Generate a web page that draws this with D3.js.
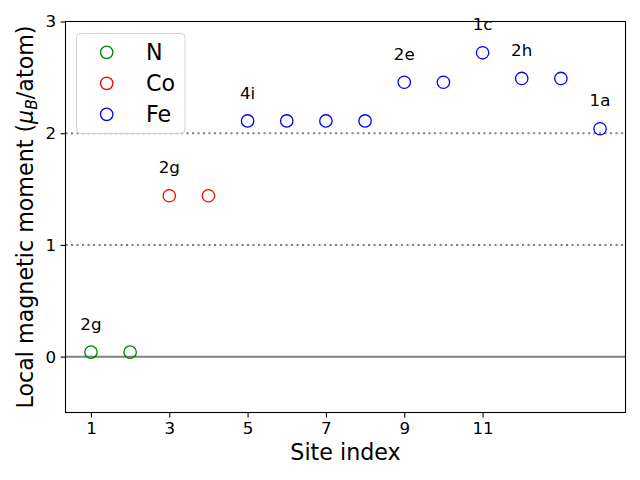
<!DOCTYPE html>
<html><head><meta charset="utf-8">
<script src="https://cdn.jsdelivr.net/npm/d3@7"></script>
<style>body{margin:0;background:#fff}svg{font-family:"DejaVu Sans",sans-serif}</style>
</head><body>
<svg id="c" width="640" height="480"></svg>
<script>
const nSites = [1, 2];
const nValues = [0.04, 0.04];
const coSites = [3, 4];
const coValues = [1.44, 1.44];
const feSites = [5, 6, 7, 8, 9, 10, 11, 12, 13, 14];
const feValues = [2.11, 2.11, 2.11, 2.11, 2.456, 2.456, 2.72, 2.49, 2.49, 2.04];
const siteLabels = ["2g", "2g", "4i", "2e", "1c", "2h", "1a"];
const labelSites = [1, 3, 5, 9, 11, 12, 14];
const labelValues = [0.04, 1.44, 2.11, 2.456, 2.72, 2.49, 2.04];
const xTicks = [1, 3, 5, 7, 9, 11];
const yTicks = [0, 1, 2, 3];
const refLines = [1, 2];

const svg = d3.select("#c");
const L = 65.5, R = 625.5, T = 21.5, B = 412.5;
const x = d3.scaleLinear().domain([0.35, 14.65]).range([L, R]);
const y = d3.scaleLinear().domain([-0.5, 3]).range([B, T]);

// reference lines
svg.append("line").attr("x1", L).attr("x2", R).attr("y1", y(0)).attr("y2", y(0))
  .attr("stroke", "#808080").attr("stroke-width", 2);
svg.selectAll(".ref").data(refLines).join("line")
  .attr("x1", L).attr("x2", R).attr("y1", d => y(d)).attr("y2", d => y(d))
  .attr("stroke", "#808080").attr("stroke-width", 2).attr("stroke-dasharray", "2.1,3.4");

// axes
const xAxis = svg.append("g").attr("transform", `translate(0,${B})`)
  .call(d3.axisBottom(x).tickValues(xTicks).tickSize(4.9).tickPadding(4.5).tickFormat(d3.format("d")));
const yAxis = svg.append("g").attr("transform", `translate(${L},0)`)
  .call(d3.axisLeft(y).tickValues(yTicks).tickSize(4.9).tickPadding(4.5).tickFormat(d3.format("d")));
[xAxis, yAxis].forEach(a => {
  a.select(".domain").remove();
  a.selectAll("text").attr("font-size", 16.7).attr("fill", "#000").attr("font-family", "DejaVu Sans");
  a.selectAll("line").attr("stroke", "#000").attr("stroke-width", 1.1);
});
svg.append("rect").attr("x", L).attr("y", T).attr("width", R - L).attr("height", B - T)
  .attr("fill", "none").attr("stroke", "#000").attr("stroke-width", 1.1);

// points
function pts(sites, vals, color) {
  svg.append("g").selectAll("circle").data(sites).join("circle")
    .attr("cx", d => x(d)).attr("cy", (d, i) => y(vals[i])).attr("r", 6.2)
    .attr("fill", "none").attr("stroke", color).attr("stroke-width", 1.3);
}
pts(nSites, nValues, "green");
pts(coSites, coValues, "red");
pts(feSites, feValues, "blue");

// site labels
svg.append("g").selectAll("text").data(siteLabels).join("text")
  .attr("x", (d, i) => x(labelSites[i])).attr("y", (d, i) => y(labelValues[i] + 0.2))
  .attr("text-anchor", "middle").attr("font-size", 16.7).attr("fill", "#000").text(d => d);

// axis labels
svg.append("text").attr("x", (L + R) / 2).attr("y", 460).attr("text-anchor", "middle")
  .attr("font-size", 22.2).text("Site index");
const yl = svg.append("text").attr("transform", `translate(33,${(T + B) / 2}) rotate(-90)`)
  .attr("text-anchor", "middle").attr("font-size", 22.2);
yl.append("tspan").text("Local magnetic moment (");
yl.append("tspan").attr("font-style", "italic").text("μ");
yl.append("tspan").attr("font-style", "italic").attr("font-size", 15.5).attr("dy", 4).text("B");
yl.append("tspan").attr("dy", -4).text("/atom)");

// legend
const legNames = ["N", "Co", "Fe"];
const legColors = ["green", "red", "blue"];
svg.append("rect").attr("x", 76.5).attr("y", 33.5).attr("width", 108.5).attr("height", 100)
  .attr("rx", 4).attr("fill", "#fff").attr("fill-opacity", 0.8).attr("stroke", "#d0d0d0");
const lg = svg.append("g").selectAll("g").data(legNames).join("g")
  .attr("transform", (d, i) => `translate(0,${52.3 + i * 31})`);
lg.append("circle").attr("cx", 106.7).attr("cy", 0).attr("r", 6.2)
  .attr("fill", "none").attr("stroke", (d, i) => legColors[i]).attr("stroke-width", 1.3);
lg.append("text").attr("x", 146).attr("y", 8).attr("font-size", 22.2).text(d => d);
</script>
</body></html>
